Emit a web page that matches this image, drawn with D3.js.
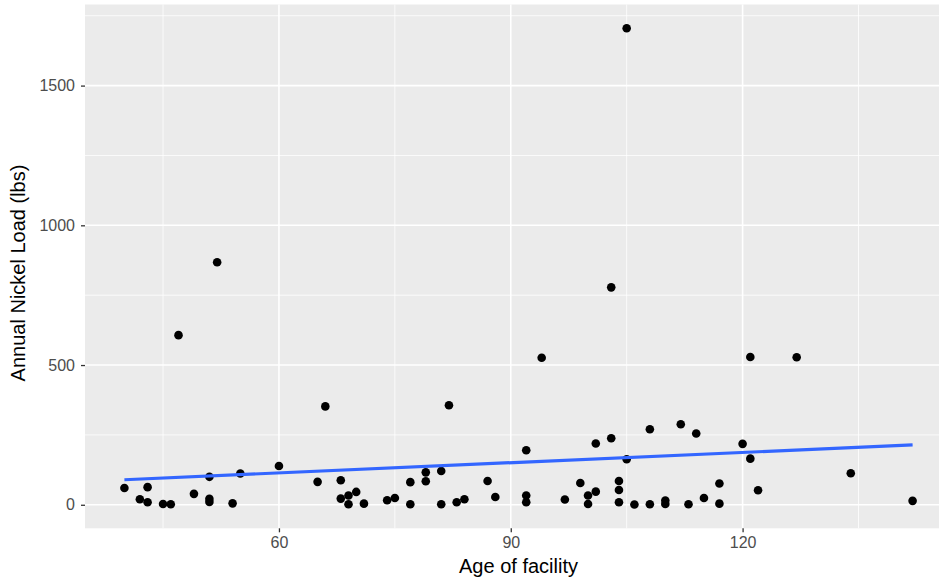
<!DOCTYPE html>
<html><head><meta charset="utf-8">
<script src="https://cdn.jsdelivr.net/npm/d3@7"></script>
<style>body{margin:0;background:#fff}svg{display:block}</style>
</head><body>
<script>
// Age of facility (years)
const age = [40,42,43,43,45,46,47,49,51,51,51,52,54,55,60,
  65,66,68,68,69,69,70,71,74,75,77,77,79,79,81,81,82,83,84,87,88,
  92,92,92,94,97,99,100,100,101,101,103,103,104,104,104,105,105,106,108,108,110,110,112,113,114,115,117,117,
  120,121,121,122,127,134,142];
// Annual Nickel Load (lbs)
const nickel = [60,20,63,9,3,2,607,39,100,21,10,868,5,112,139,
  82,352,88,22,33,2,46,4,16,24,81,2,116,84,121,2,356,9,20,85,28,
  195,33,9,526,19,78,33,3,219,47,238,778,85,53,9,163,1705,1,270,2,15,3,288,2,255,24,76,4,
  218,165,529,52,528,113,14];
const xTicks = [60,90,120];
const yTicks = [0,500,1000,1500];
const xMinor = [45,75,105,135];
const yMinor = [250,750,1250,1750];

const W = 939, H = 584;
const panel = {left:85, top:4.5, width:867, height:523.8};
const svg = d3.select("body").append("svg").attr("width",W).attr("height",H);

const xmin = d3.min(age), xmax = d3.max(age), xr = xmax-xmin;
const ymin = d3.min(nickel), ymax = d3.max(nickel), yr = ymax-ymin;
const x = d3.scaleLinear().domain([xmin-0.05*xr, xmax+0.05*xr]).range([panel.left, panel.left+panel.width]);
const y = d3.scaleLinear().domain([ymin-0.05*yr, ymax+0.05*yr]).range([panel.top+panel.height, panel.top]);

const g = svg.append("g");
g.append("rect").attr("x",panel.left).attr("y",panel.top).attr("width",panel.width).attr("height",panel.height).attr("fill","#EBEBEB");
const x0 = panel.left, x1 = panel.left+panel.width, y0 = panel.top, y1 = panel.top+panel.height;
g.selectAll(".vmin").data(xMinor).join("line").attr("x1",d=>x(d)).attr("x2",d=>x(d)).attr("y1",y0).attr("y2",y1).attr("stroke","#fff").attr("stroke-width",0.8);
g.selectAll(".hmin").data(yMinor.filter(d=>y(d)>=y0)).join("line").attr("x1",x0).attr("x2",x1).attr("y1",d=>y(d)).attr("y2",d=>y(d)).attr("stroke","#fff").attr("stroke-width",0.8);
g.selectAll(".vmaj").data(xTicks).join("line").attr("x1",d=>x(d)).attr("x2",d=>x(d)).attr("y1",y0).attr("y2",y1).attr("stroke","#fff").attr("stroke-width",1.6);
g.selectAll(".hmaj").data(yTicks).join("line").attr("x1",x0).attr("x2",x1).attr("y1",d=>y(d)).attr("y2",d=>y(d)).attr("stroke","#fff").attr("stroke-width",1.6);

// points
g.selectAll(".pt").data(age.map((a,i)=>[a,nickel[i]])).join("circle")
  .attr("cx",d=>x(d[0])).attr("cy",d=>y(d[1])).attr("r",4.3).attr("fill","#000");

// linear regression (geom_smooth method = lm)
const mx = d3.mean(age), my = d3.mean(nickel);
let sxy=0, sxx=0;
age.forEach((a,i)=>{sxy+=(a-mx)*(nickel[i]-my); sxx+=(a-mx)*(a-mx);});
const slope = sxy/sxx, intercept = my - slope*mx;
g.append("line").attr("x1",x(xmin)).attr("y1",y(intercept+slope*xmin)).attr("x2",x(xmax)).attr("y2",y(intercept+slope*xmax))
  .attr("stroke","#3366FF").attr("stroke-width",3.2);

// axes
const xAxis = d3.axisBottom(x).tickValues(xTicks).tickSize(4).tickPadding(4.5).tickFormat(d3.format("d"));
const yAxis = d3.axisLeft(y).tickValues(yTicks).tickSize(4).tickPadding(6).tickFormat(d3.format("d"));
const ax = svg.append("g").attr("transform",`translate(0,${y1})`).call(xAxis);
const ay = svg.append("g").attr("transform",`translate(${x0},0)`).call(yAxis);
[ax,ay].forEach(a=>{
  a.select(".domain").remove();
  a.selectAll(".tick line").attr("stroke","#333333").attr("stroke-width",1.3);
  a.selectAll("text").attr("fill","#4D4D4D").style("font-family","Liberation Sans, Arial, sans-serif").style("font-size","16px");
});
svg.append("text").attr("x",x0+panel.width/2).attr("y",573).attr("text-anchor","middle")
  .style("font-family","Liberation Sans, Arial, sans-serif").style("font-size","20px").attr("fill","#000").text("Age of facility");
svg.append("text").attr("transform",`translate(25,273) rotate(-90)`).attr("text-anchor","middle")
  .style("font-family","Liberation Sans, Arial, sans-serif").style("font-size","20px").attr("fill","#000").text("Annual Nickel Load (lbs)");
</script>
</body></html>
